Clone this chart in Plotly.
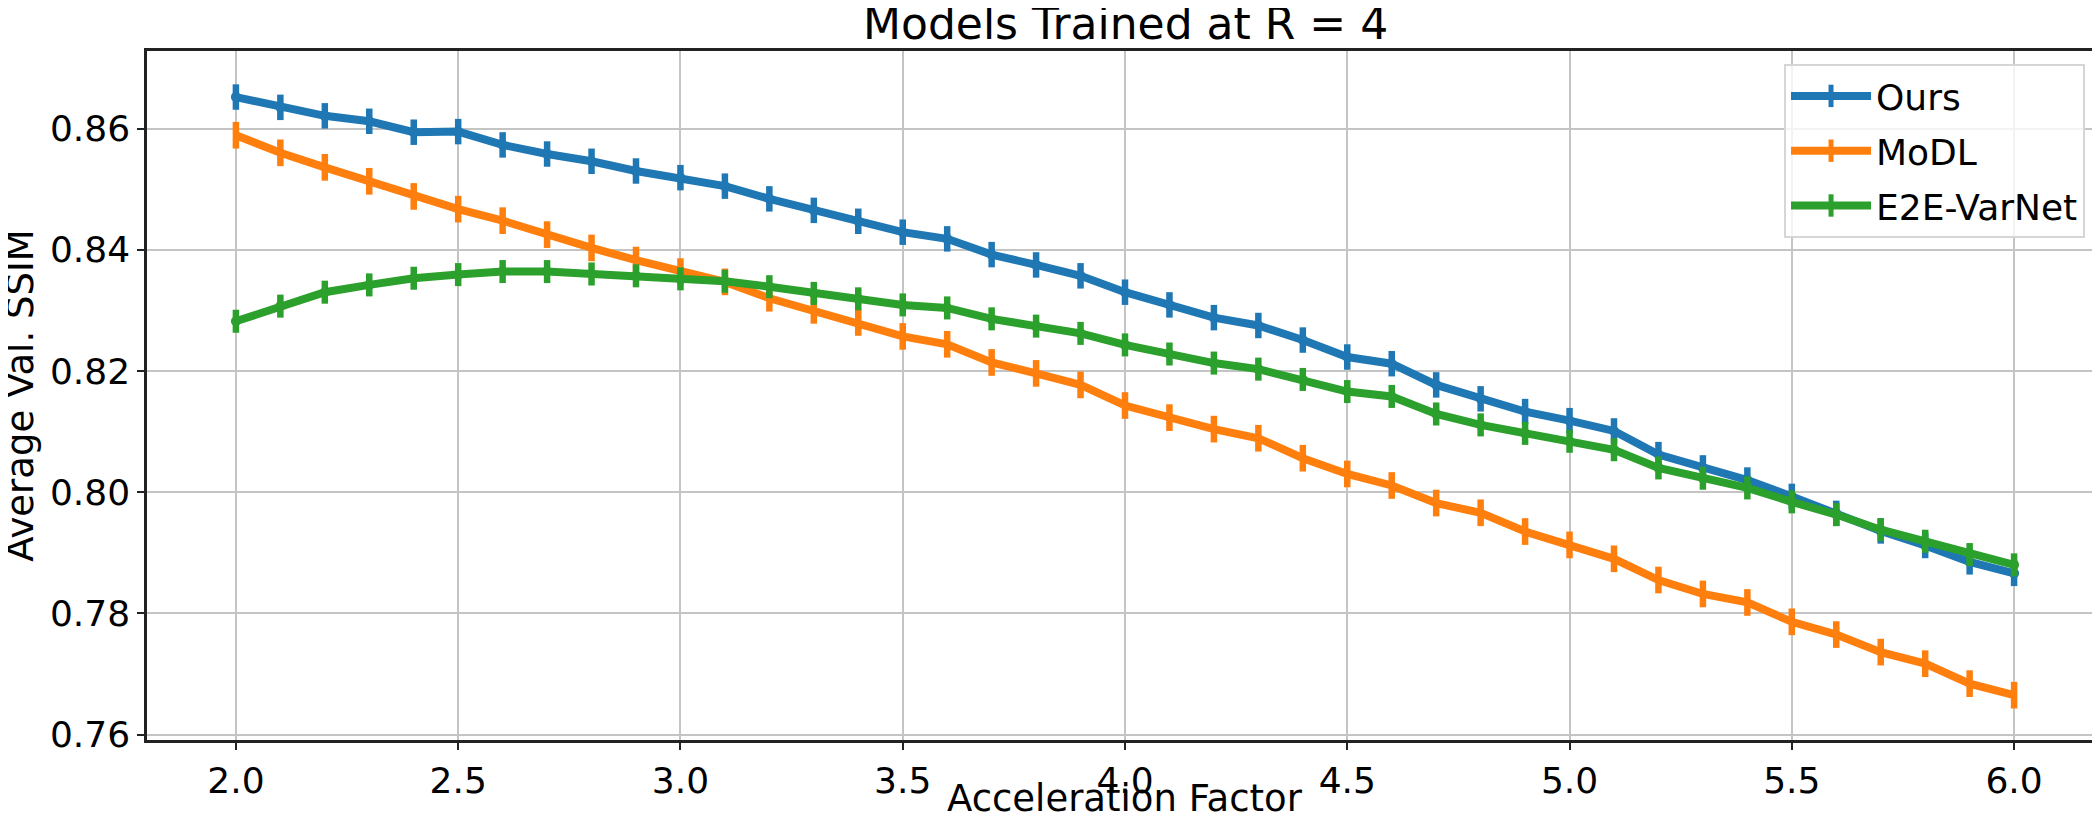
import plotly.graph_objects as go

#%% DATA

accel = [2.0, 2.1, 2.2, 2.3, 2.4, 2.5, 2.6, 2.7, 2.8, 2.9, 3.0,
         3.1, 3.2, 3.3, 3.4, 3.5, 3.6, 3.7, 3.8, 3.9, 4.0,
         4.1, 4.2, 4.3, 4.4, 4.5, 4.6, 4.7, 4.8, 4.9, 5.0,
         5.1, 5.2, 5.3, 5.4, 5.5, 5.6, 5.7, 5.8, 5.9, 6.0]

ours = [0.8652, 0.8635, 0.8621, 0.8612, 0.8594, 0.8595, 0.8573, 0.8558, 0.8546, 0.8530, 0.8519,
        0.8505, 0.8484, 0.8465, 0.8447, 0.8429, 0.8418, 0.8392, 0.8375, 0.8357, 0.8330,
        0.8309, 0.8288, 0.8275, 0.8251, 0.8223, 0.8212, 0.8177, 0.8154, 0.8133, 0.8118,
        0.8101, 0.8062, 0.8040, 0.8020, 0.7993, 0.7965, 0.7936, 0.7912, 0.7885, 0.7866]

modl = [0.8589, 0.8560, 0.8536, 0.8513, 0.8488, 0.8467, 0.8448, 0.8425, 0.8403, 0.8383, 0.8364,
        0.8347, 0.8320, 0.8300, 0.8280, 0.8257, 0.8244, 0.8214, 0.8196, 0.8177, 0.8143,
        0.8123, 0.8104, 0.8089, 0.8056, 0.8030, 0.8011, 0.7982, 0.7966, 0.7935, 0.7913,
        0.7890, 0.7855, 0.7832, 0.7818, 0.7786, 0.7765, 0.7736, 0.7717, 0.7684, 0.7665]

e2e = [0.8282, 0.8307, 0.8330, 0.8342, 0.8353, 0.8359, 0.8364, 0.8364, 0.8360, 0.8357, 0.8352,
       0.8348, 0.8339, 0.8328, 0.8319, 0.8309, 0.8304, 0.8286, 0.8274, 0.8262, 0.8243,
       0.8228, 0.8213, 0.8203, 0.8186, 0.8166, 0.8158, 0.8129, 0.8111, 0.8097, 0.8084,
       0.8070, 0.8040, 0.8023, 0.8007, 0.7984, 0.7963, 0.7938, 0.7919, 0.7897, 0.7880]

# half-width of the error bars (std)
errors = {'Ours': 0.0021, 'MoDL': 0.0022, 'E2E-VarNet': 0.0019}

x_ticks = [2.0, 2.5, 3.0, 3.5, 4.0, 4.5, 5.0, 5.5, 6.0]
y_ticks = [0.76, 0.78, 0.80, 0.82, 0.84, 0.86]

#%% FIGURE

W, H = 2100, 816
margin = dict(l=139, r=2, t=43, b=84)
plot_w = W - margin['l'] - margin['r']
plot_h = H - margin['t'] - margin['b']

series = [
    ('Ours', ours, '#1f77b4', 10),
    ('MoDL', modl, '#ff7f0e', 0),
    ('E2E-VarNet', e2e, '#2ca02c', 10),
]

FONT = 'DejaVu Sans'

fig = go.Figure()

for name, vals, color, msize in series:
    fig.add_trace(go.Scatter(
        x=accel,
        y=vals,
        mode='lines+markers' if msize else 'lines',
        line=dict(color=color, width=8),
        marker=dict(color=color, size=msize),
        error_y=dict(type='constant', value=errors[name],
                     color=color, thickness=6.5, width=0),
        showlegend=False,
        name=name,
    ))

# legend entries drawn with a vertical tick to mimic errorbar handles
for name, vals, color, msize in series:
    fig.add_trace(go.Scatter(
        x=[None], y=[None],
        mode='lines+markers',
        line=dict(color=color, width=8),
        marker=dict(symbol='line-ns-open', size=16,
                    line=dict(color=color, width=5)),
        name=name,
        legendgroup=name,
    ))

fig.update_layout(
    width=W, height=H,
    margin=margin,
    template='plotly_white',
    plot_bgcolor='white',
    paper_bgcolor='white',
    font=dict(family=FONT, size=36, color='black'),
    legend=dict(
        x=(2080 - margin['l']) / plot_w, xanchor='right',
        y=(H - margin['b'] - 56) / plot_h, yanchor='top',
        bgcolor='rgba(255,255,255,0.8)',
        bordercolor='#d6d6d6', borderwidth=2,
        font=dict(family=FONT, size=36),
        itemwidth=80,
        tracegroupgap=5,
        traceorder='grouped',
    ),
    annotations=[
        dict(text='Models Trained at R = 4', xref='paper', yref='paper',
             x=0.5, y=1, xanchor='center', yanchor='bottom', showarrow=False,
             font=dict(family=FONT, size=44)),
        dict(text='Acceleration Factor', xref='paper', yref='paper',
             x=0.5, y=0, xanchor='center', yanchor='top', yshift=-35,
             showarrow=False, font=dict(family=FONT, size=37)),
        dict(text='Average Val. SSIM', xref='paper', yref='paper',
             x=-(margin['l'] - 12) / plot_w, y=0.5, xanchor='center',
             yanchor='middle', textangle=-90, showarrow=False,
             font=dict(family=FONT, size=37)),
    ],
)

fig.update_xaxes(
    range=[1.8, 6.2],
    tickvals=x_ticks,
    tickformat='.1f',
    showgrid=True, gridcolor='#c4c4c4', gridwidth=2,
    zeroline=False,
    showline=True, linecolor='#222222', linewidth=2.5, mirror=True,
    ticks='outside', ticklen=7, tickwidth=2, tickcolor='#222222',
    tickfont=dict(family=FONT, size=36),
)
fig.update_yaxes(
    range=[0.7591, 0.8728],
    tickvals=y_ticks,
    tickformat='.2f',
    showgrid=True, gridcolor='#c4c4c4', gridwidth=2,
    zeroline=False,
    showline=True, linecolor='#222222', linewidth=2.5, mirror=True,
    ticks='outside', ticklen=7, tickwidth=2, tickcolor='#222222',
    tickfont=dict(family=FONT, size=36),
)

fig.write_html("out.html")
